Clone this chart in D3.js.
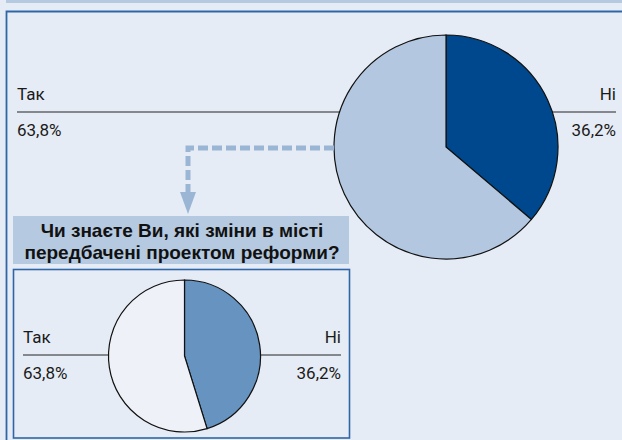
<!DOCTYPE html>
<html>
<head>
<meta charset="utf-8">
<script src="https://cdn.jsdelivr.net/npm/d3@7"></script>
<style>
  body { margin: 0; background: #e6ecf5; }
  svg { display: block; }
</style>
</head>
<body>
<svg class="chart"></svg>
<script>
// Data
var categories = ["Ні", "Так"];
var mainValues = [36.2, 63.8];
var mainLabels = ["36,2%", "63,8%"];
var subValues = [45.2, 54.8];          // small pie as drawn in the picture
var subLabels = ["36,2%", "63,8%"];    // labels as printed
var subTitle = ["Чи знаєте Ви, які зміни в місті", "передбачені проектом реформи?"];

var mainColors = ["#00488e", "#b3c8e0"];
var subColors = ["#6693bf", "#eef2f8"];

const width = 622;
const height = 440;

var svg = d3.select(".chart")
    .attr("width", width)
    .attr("height", height);

// background + top band + outer frame
svg.append("rect").attr("width", width).attr("height", height).attr("fill", "#e6ecf5");
svg.append("rect").attr("x", 6).attr("y", 0).attr("width", width).attr("height", 3).attr("fill", "#b5c9e0");
svg.append("path")
    .attr("d", "M6.5," + height + "V11.5H" + (width + 2))
    .attr("fill", "none")
    .attr("stroke", "#2f66a8")
    .attr("stroke-width", 1.8);

var pie = d3.pie().sort(null).value(d => d);

// draws a pie with the two side labels and the horizontal rule
function drawPie(g, cx, cy, r, values, colors, labels, left, right, lineY) {
    var arc = d3.arc().innerRadius(0).outerRadius(r);
    var fs = 17;

    g.append("line")
        .attr("x1", left).attr("x2", right)
        .attr("y1", lineY).attr("y2", lineY)
        .attr("stroke", "#222").attr("stroke-width", 1);

    g.append("g")
        .attr("transform", `translate(${cx},${cy})`)
        .selectAll("path")
        .data(pie(values))
        .enter()
        .append("path")
        .attr("d", arc)
        .attr("fill", (d, i) => colors[i])
        .attr("stroke", "#111")
        .attr("stroke-width", 1.2);

    var txt = g.append("g")
        .style("font-family", "Roboto, sans-serif")
        .style("font-size", fs + "px")
        .style("fill", "#1a1a1a");

    // Так on the left, Ні on the right
    txt.append("text").attr("x", left).attr("y", lineY - 12.5).text(categories[1]);
    txt.append("text").attr("x", left).attr("y", lineY + 24).text(labels[1]);
    txt.append("text").attr("x", right).attr("y", lineY - 12.5)
        .style("text-anchor", "end").text(categories[0]);
    txt.append("text").attr("x", right).attr("y", lineY + 24)
        .style("text-anchor", "end").text(labels[0]);
}

// main pie
var mainR = 112;
var mainCx = 446, mainCy = 147;
drawPie(svg.append("g"), mainCx, mainCy, mainR, mainValues, mainColors, mainLabels, 17, 616, 112);

// dashed connector with arrow
var arrowX = 188, dashY = 148;
var edgeX = mainCx - Math.sqrt(mainR * mainR - (dashY - mainCy) * (dashY - mainCy));
svg.append("path")
    .attr("d", `M${edgeX},${dashY}H${arrowX}V193`)
    .attr("fill", "none")
    .attr("stroke", "#9bb6d5")
    .attr("stroke-width", 5)
    .attr("stroke-dasharray", "10,4");
svg.append("path")
    .attr("d", `M${arrowX - 8},192L${arrowX + 8},192L${arrowX},214Z`)
    .attr("fill", "#9bb6d5");

// title box
svg.append("rect")
    .attr("x", 13).attr("y", 216)
    .attr("width", 336).attr("height", 48)
    .attr("fill", "#b5c9e0");
svg.append("g")
    .selectAll("text")
    .data(subTitle)
    .enter()
    .append("text")
    .attr("x", 182)
    .attr("y", (d, i) => 237 + i * 21.5)
    .style("text-anchor", "middle")
    .style("font-family", "'Liberation Sans', Arial, sans-serif")
    .style("font-weight", "bold")
    .style("font-size", "19px")
    .style("fill", "#111")
    .text(d => d);

// small panel
svg.append("rect")
    .attr("x", 13.5).attr("y", 269.5)
    .attr("width", 336).attr("height", 168.5)
    .attr("fill", "#e6ecf5")
    .attr("stroke", "#2f66a8")
    .attr("stroke-width", 1.6);
drawPie(svg.append("g"), 184.5, 356, 76, subValues, subColors, subLabels, 23, 341, 355);
</script>
</body>
</html>
